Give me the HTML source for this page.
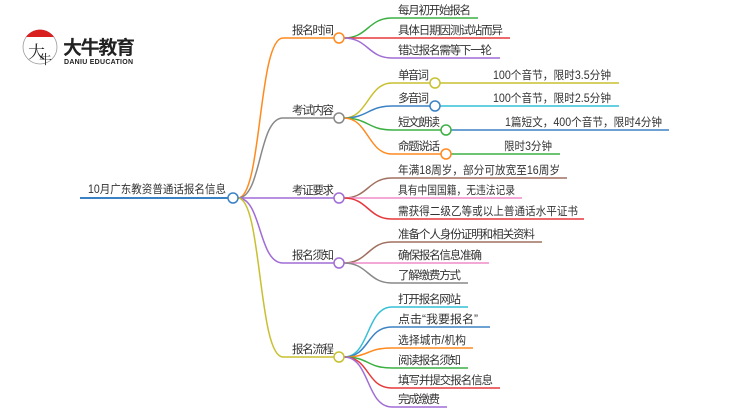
<!DOCTYPE html>
<html><head><meta charset="utf-8"><style>
html,body{margin:0;padding:0;background:#fff;}
svg{display:block;}
text{font-family:"Liberation Sans","Noto Sans CJK SC",sans-serif;font-size:11.5px;fill:#333;}
</style></head><body>
<svg width="750" height="410" viewBox="0 0 750 410" xmlns="http://www.w3.org/2000/svg">
<g fill="none" stroke-width="1.5">
<!-- root -->
<path d="M80 198 H228" stroke="#3b82c4" stroke-width="2"/>
<!-- branches -->
<path d="M238 198 C262 198 258 38 283 38 H334" stroke="#ff8a1f"/>
<path d="M238 198 C262 198 258 118 283 118 H334" stroke="#888"/>
<path d="M238 198 H334" stroke="#a06cd5"/>
<path d="M238 198 C262 198 258 263 283 263 H334" stroke="#a06cd5"/>
<path d="M238 198 C262 198 258 357 283 357 H334" stroke="#c8c030"/>
<!-- 报名时间 leaves -->
<path d="M344 38 C368 38 368 18 392 18 H478" stroke="#3cb043"/>
<path d="M344 38 H510" stroke="#e5383b"/>
<path d="M344 38 C368 38 368 58 392 58 H500" stroke="#a06cd5"/>
<!-- 考试内容 -->
<path d="M344 118 C368 118 368 83 392 83 H430" stroke="#c8c030"/>
<path d="M440 83 H619" stroke="#c8c030"/>
<path d="M344 118 C368 118 368 106 392 106 H430" stroke="#3b82c4"/>
<path d="M440 106 H619" stroke="#35c0d5"/>
<path d="M344 118 C368 118 368 130 392 130 H441" stroke="#3cb043"/>
<path d="M451 130 H669" stroke="#3b82c4"/>
<path d="M344 118 C368 118 368 154 392 154 H441" stroke="#ff8a1f"/>
<path d="M451 154 H560" stroke="#3cb043"/>
<!-- 考证要求 -->
<path d="M344 198 C368 198 368 178 392 178 H567" stroke="#a07060"/>
<path d="M344 198 H522" stroke="#f08bc8"/>
<path d="M344 198 C368 198 368 219 392 219 H584" stroke="#e5383b"/>
<!-- 报名须知 -->
<path d="M344 263 C368 263 368 242 392 242 H542" stroke="#a07060"/>
<path d="M344 263 H489" stroke="#f08bc8"/>
<path d="M344 263 C368 263 368 283 392 283 H468" stroke="#888"/>
<!-- 报名流程 -->
<path d="M344 357 C370 357 366 307 392 307 H468" stroke="#35c0d5"/>
<path d="M344 357 C370 357 366 327 392 327 H490" stroke="#3b82c4"/>
<path d="M344 357 C370 357 366 348 392 348 H473" stroke="#ff8a1f"/>
<path d="M344 357 C370 357 366 368 392 368 H468" stroke="#3cb043"/>
<path d="M344 357 C370 357 366 388 392 388 H500" stroke="#e5383b"/>
<path d="M344 357 C370 357 366 407 392 407 H447" stroke="#a06cd5"/>
</g>
<g fill="#fff" stroke-width="1.5">
<circle cx="233" cy="198" r="5" stroke="#3b82c4"/>
<circle cx="339" cy="38" r="5" stroke="#ff8a1f"/>
<circle cx="339" cy="118" r="5" stroke="#888"/>
<circle cx="339" cy="198" r="5" stroke="#a06cd5"/>
<circle cx="339" cy="263" r="5" stroke="#a06cd5"/>
<circle cx="339" cy="357" r="5" stroke="#c8c030"/>
<circle cx="435" cy="83" r="5" stroke="#c8c030"/>
<circle cx="435" cy="106" r="5" stroke="#3b82c4"/>
<circle cx="446" cy="130" r="5" stroke="#3cb043"/>
<circle cx="446" cy="154" r="5" stroke="#ff8a1f"/>
</g>
<!-- logo -->
<circle cx="40" cy="47" r="17" fill="#fff" stroke="#999" stroke-width="0.8"/>
<path d="M26 37 A17 17 0 0 1 54 37 Z" fill="#d9201f"/>
<text x="28" y="58" style="font-size:17px;fill:#222;font-family:'Noto Serif CJK SC',serif">大</text>
<text x="39" y="64" style="font-size:13px;fill:#222;font-family:'Noto Serif CJK SC',serif">牛</text>
<text x="63" y="54" style="font-size:19px;font-weight:bold;fill:#222" textLength="72">大牛教育</text>
<text x="64" y="64" style="font-size:7px;font-weight:bold;fill:#222" textLength="69">DANIU EDUCATION</text>
<!-- labels -->
<text x="88" y="193" textLength="138" lengthAdjust="spacingAndGlyphs">10月广东教资普通话报名信息</text>
<text x="292" y="34" textLength="42">报名时间</text>
<text x="292" y="114" textLength="42">考试内容</text>
<text x="292" y="194" textLength="42">考证要求</text>
<text x="292" y="259" textLength="42">报名须知</text>
<text x="292" y="353" textLength="42">报名流程</text>

<text x="398" y="14" textLength="73">每月初开始报名</text>
<text x="398" y="34" textLength="105">具体日期因测试站而异</text>
<text x="398" y="54" textLength="94">错过报名需等下一轮</text>

<text x="398" y="79" textLength="31">单音词</text>
<text x="493" y="79" textLength="118" lengthAdjust="spacingAndGlyphs">100个音节，限时3.5分钟</text>
<text x="398" y="102" textLength="31">多音词</text>
<text x="493" y="102" textLength="118" lengthAdjust="spacingAndGlyphs">100个音节，限时2.5分钟</text>
<text x="398" y="126" textLength="42">短文朗读</text>
<text x="505" y="126" textLength="157" lengthAdjust="spacingAndGlyphs">1篇短文，400个音节，限时4分钟</text>
<text x="398" y="150" textLength="42">命题说话</text>
<text x="504" y="150" textLength="48" lengthAdjust="spacingAndGlyphs">限时3分钟</text>

<text x="398" y="174" textLength="162" lengthAdjust="spacingAndGlyphs">年满18周岁，部分可放宽至16周岁</text>
<text x="398" y="194" textLength="117" lengthAdjust="spacingAndGlyphs">具有中国国籍，无违法记录</text>
<text x="398" y="215" textLength="180" lengthAdjust="spacingAndGlyphs">需获得二级乙等或以上普通话水平证书</text>

<text x="398" y="238" textLength="137">准备个人身份证明和相关资料</text>
<text x="398" y="259" textLength="84">确保报名信息准确</text>
<text x="398" y="279" textLength="63">了解缴费方式</text>

<text x="398" y="303" textLength="63">打开报名网站</text>
<text x="398" y="323" textLength="80" lengthAdjust="spacingAndGlyphs">点击“我要报名”</text>
<text x="398" y="344" textLength="68" lengthAdjust="spacingAndGlyphs">选择城市/机构</text>
<text x="398" y="364" textLength="63">阅读报名须知</text>
<text x="398" y="384" textLength="95">填写并提交报名信息</text>
<text x="398" y="403" textLength="42">完成缴费</text>
</svg>
</body></html>
